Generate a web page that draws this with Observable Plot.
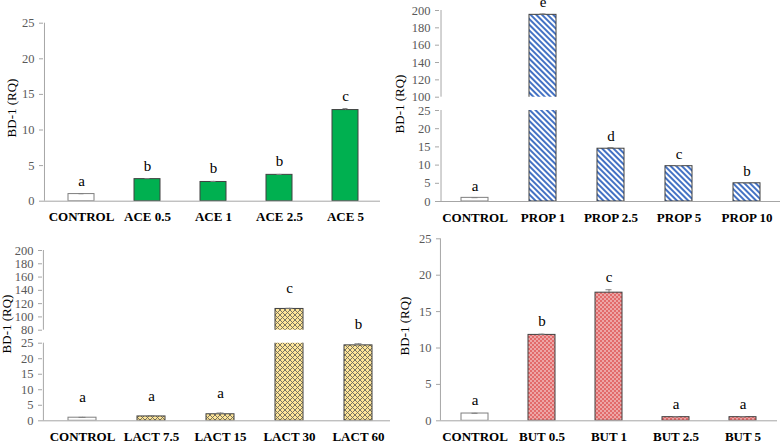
<!DOCTYPE html>
<html><head><meta charset="utf-8">
<script src="https://cdn.jsdelivr.net/npm/d3@7"></script>
<script src="https://cdn.jsdelivr.net/npm/@observablehq/plot@0.6"></script>
<style>
html,body{margin:0;padding:0;background:#fff;}
#chart{position:relative;width:783px;height:444px;overflow:hidden;font-family:"Liberation Serif",serif;}
.ylab{position:absolute;font-size:13px;color:#000;white-space:nowrap;transform:translate(-50%,-50%) rotate(-90deg);font-family:"Liberation Serif",serif;}
#chart g[aria-label="y-axis tick"]{stroke:#a6a6a6;}
</style></head><body>
<svg width="0" height="0" style="position:absolute"><defs>
<pattern id="stripes" patternUnits="userSpaceOnUse" width="4" height="4" patternTransform="rotate(-45)"><rect width="4" height="4" fill="#fff"/><rect width="2" height="4" fill="#4472C4"/></pattern>
<pattern id="cross" patternUnits="userSpaceOnUse" width="5" height="5"><rect width="5" height="5" fill="#FFE699"/><path d="M0,0L5,5M5,0L0,5M-1,4L1,6M4,-1L6,1M-1,1L1,-1M4,6L6,4" stroke="#6d6a5c" stroke-width="0.9"/></pattern>
<pattern id="dots" patternUnits="userSpaceOnUse" width="4" height="4"><rect width="4" height="4" fill="#E26B6B"/><circle cx="1" cy="1" r="0.75" fill="#fff"/><circle cx="3" cy="3" r="0.75" fill="#fff"/></pattern>
</defs></svg>
<div id="chart"></div>
<script>
// ---- data ----
const aceCats = ["CONTROL", "ACE 0.5", "ACE 1", "ACE 2.5", "ACE 5"];
const aceVals = [1.0, 3.1, 2.7, 3.7, 12.8];
const aceErr = [0.05, 0.08, 0.08, 0.06, 0.2];
const aceLetters = ["a", "b", "b", "b", "c"];

const propCats = ["CONTROL", "PROP 1", "PROP 2.5", "PROP 5", "PROP 10"];
const propVals = [1.0, 195, 14.5, 9.7, 5.0];
const propErr = [0.05, 1.0, 0.3, 0.15, 0.1];
const propLetters = ["a", "e", "d", "c", "b"];

const lactCats = ["CONTROL", "LACT 7.5", "LACT 15", "LACT 30", "LACT 60"];
const lactVals = [1.0, 1.4, 2.1, 112, 24.3];
const lactErr = [0.1, 0.25, 0.4, 1.0, 0.5];
const lactLetters = ["a", "a", "a", "c", "b"];

const butCats = ["CONTROL", "BUT 0.5", "BUT 1", "BUT 2.5", "BUT 5"];
const butVals = [1.0, 11.8, 17.6, 0.5, 0.5];
const butErr = [0.03, 0.1, 0.4, 0.05, 0.05];
const butLetters = ["a", "b", "c", "a", "a"];

const lowTicks = [0, 5, 10, 15, 20, 25];
const propHighTicks = [100, 120, 140, 160, 180, 200];
const lactHighTicks = [80, 100, 120, 140, 160, 180, 200];
const yLabel = "BD-1 (RQ)";

// ---- layout (page coordinates) ----
const panels = [
  {left: 0, top: 0, width: 390, height: 222, axisX: 43, axisEnd: 380, band: [46.7, 380],
   cats: aceCats, vals: aceVals, errs: aceErr, letters: aceLetters, fill: "#00B050", letterDy: -8, label: [12, 108],
   segments: [{domain: [0, 25], px: [200.7, 22.7], ticks: lowTicks, base: true}]},
  {left: 390, top: 0, width: 393, height: 222, axisX: 439, axisEnd: 780, band: [438.6, 782.4],
   cats: propCats, vals: propVals, errs: propErr, letters: propLetters, fill: "url(#stripes)", letterDy: -7, label: [400, 104],
   segments: [{domain: [100, 200], px: [96.7, 10], ticks: propHighTicks, base: false},
              {domain: [0, 25], px: [201, 110], ticks: lowTicks, base: true}]},
  {left: 0, top: 220, width: 392, height: 224, axisX: 42, axisEnd: 390, band: [46.5, 392.5],
   cats: lactCats, vals: lactVals, errs: lactErr, letters: lactLetters, fill: "url(#cross)", letterDy: -15, label: [7, 324],
   segments: [{domain: [80, 200], px: [329.7, 250], ticks: lactHighTicks, base: false},
              {domain: [0, 25], px: [420.3, 342.7], ticks: lowTicks, base: true}]},
  {left: 390, top: 220, width: 393, height: 224, axisX: 440, axisEnd: 777, band: [441, 776.5],
   cats: butCats, vals: butVals, errs: butErr, letters: butLetters, fill: "url(#dots)", letterDy: -8, label: [405, 326],
   segments: [{domain: [0, 25], px: [420.3, 238.3], ticks: lowTicks, base: true}]}
];

const chart = document.getElementById("chart");
const axisGray = "#a6a6a6";

for (const p of panels) {
  const rows = p.cats.map((c, i) => ({c, v: p.vals[i], e: p.errs[i], l: p.letters[i], i}));
  const r0 = p.band[0] - p.left, r1 = p.band[1] - p.left;
  const step = (r1 - r0) / p.cats.length;
  const axisDx = (p.axisX - p.left) - (r0 + step / 2);
  for (const seg of p.segments) {
    const [lo, hi] = seg.domain;
    const bottom = seg.px[0] - p.top, top = seg.px[1] - p.top;
    const barRows = rows.filter(d => d.v > lo);
    const markRows = rows.filter(d => d.v > lo && d.v <= hi);
    const svg = Plot.plot({
      width: p.width, height: p.height,
      marginTop: top, marginBottom: p.height - bottom,
      marginLeft: p.axisX - p.left, marginRight: p.left + p.width - p.axisEnd,
      style: {fontFamily: "'Liberation Serif', serif", fontSize: "12.5px", background: "transparent", overflow: "visible"},
      x: {type: "band", domain: p.cats, range: [r0, r1], paddingInner: 0.6, paddingOuter: 0.3, axis: null},
      y: {domain: seg.domain, range: [bottom, top], axis: null},
      marks: [
        Plot.axisY({ticks: seg.ticks, tickSize: 4, tickPadding: 5, color: "#595959", fontSize: 12.5, label: null}),
        Plot.ruleX([p.cats[0]], {x: d => d, y1: () => lo, y2: () => hi, dx: axisDx, stroke: axisGray}),
        seg.base ? Plot.ruleY([0], {stroke: axisGray}) : null,
        seg.base ? Plot.axisX({tickSize: 0, tickPadding: 11, fontWeight: "bold", fontSize: 13, color: "#000", label: null}) : null,
        Plot.barY(barRows, {x: "c", y1: () => 0, y2: "v", clip: true,
          fill: d => d.i === 0 ? "#fff" : p.fill, stroke: d => d.i === 0 ? "#7f7f7f" : "#404040", strokeWidth: 1}),
        Plot.ruleX(markRows, {x: "c", y1: "v", y2: d => d.v + d.e, stroke: "#7f7f7f"}),
        Plot.tickY(markRows, {x: "c", y: d => d.v + d.e, stroke: "#7f7f7f", insetLeft: 10.5, insetRight: 10.5}),
        Plot.text(markRows, {x: "c", y: d => d.v + d.e, text: "l", dy: p.letterDy, lineAnchor: "bottom", fontSize: 15, fill: "#000"})
      ]
    });
    svg.style.position = "absolute";
    svg.style.left = p.left + "px";
    svg.style.top = p.top + "px";
    chart.appendChild(svg);
  }
  const lab = document.createElement("div");
  lab.className = "ylab";
  lab.textContent = yLabel;
  lab.style.left = p.label[0] + "px";
  lab.style.top = p.label[1] + "px";
  chart.appendChild(lab);
}
</script>
</body></html>
